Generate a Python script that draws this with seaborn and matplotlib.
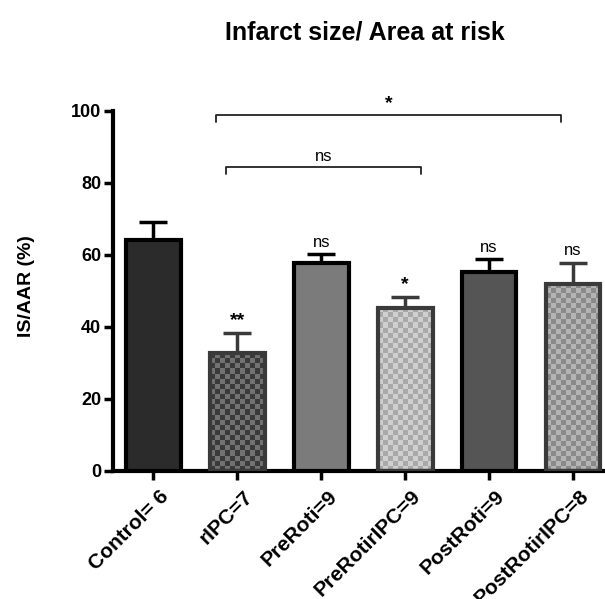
import numpy as np
import pandas as pd
import matplotlib
matplotlib.use('Agg')
import matplotlib.pyplot as plt
import matplotlib.transforms as mtransforms
import seaborn as sns

# values
groups = ['Control= 6', 'rIPC=7', 'PreRoti=9', 'PreRotirIPC=9', 'PostRoti=9', 'PostRotirIPC=8']
means = [64.2, 32.7, 57.8, 45.3, 55.3, 52.0]
sem = [4.8, 5.6, 2.3, 3.0, 3.4, 5.8]
marks = ['', '**', 'ns', '*', 'ns', 'ns']

face = ['#2b2b2b', '#3a3a3a', '#7b7b7b', '#a9a9a9', '#555555', '#8a8a8a']
checker = [None, '#727272', None, '#cfcfcf', None, '#b4b4b4']
edge = ['#000000', '#3a3a3a', '#000000', '#3a3a3a', '#000000', '#3a3a3a']

df = pd.DataFrame({'group': groups, 'value': means})

sns.set_style('ticks')
plt.rcParams['font.family'] = ['Liberation Sans', 'DejaVu Sans']
plt.rcParams['text.color'] = 'black'
plt.rcParams['xtick.color'] = 'black'
plt.rcParams['ytick.color'] = 'black'
plt.rcParams['axes.edgecolor'] = 'black'
plt.rcParams['axes.labelcolor'] = 'black'

fig = plt.figure(figsize=(6.05, 5.99), dpi=100)
ax = fig.add_axes([0.187, 0.214, 0.813, 0.601])

sns.barplot(data=df, x='group', y='value', hue='group', palette=face,
            width=0.65, legend=False, ax=ax, errorbar=None)

ax.set_xlim(-0.48, 5.38)
ax.set_ylim(0, 100)

cell = 0.06  # checker square in x data units
for i, p in enumerate(ax.patches):
    p.set_edgecolor(edge[i])
    p.set_linewidth(3)
    p.set_zorder(3)
    if checker[i] is not None:
        x0, w, h = p.get_x(), p.get_width(), p.get_height()
        nx = int(round(w / cell))
        ny = int(round(h * 3.58 / 5.0))
        grid = (np.add.outer(np.arange(ny), np.arange(nx)) % 2)
        cmap = matplotlib.colors.ListedColormap([face[i], checker[i]])
        im = ax.imshow(grid, cmap=cmap, extent=(x0, x0 + w, 0, h), origin='lower',
                       aspect='auto', interpolation='nearest', zorder=2.5)
        im.set_clip_path(p)
        p.set_facecolor('none')

# upper error bars only
for i in range(len(groups)):
    ax.errorbar(i, means[i], yerr=[[0], [sem[i]]], fmt='none', ecolor=edge[i],
                elinewidth=2.5, capsize=10, capthick=2.5, zorder=2)
    if marks[i]:
        ax.text(i, means[i] + sem[i] + 1.2, marks[i], ha='center', va='bottom',
                fontsize=12 if marks[i] == 'ns' else 14, fontweight='normal' if marks[i] == 'ns' else 'bold')

# comparison brackets
def bracket(x1, x2, y, label, size, weight):
    ax.plot([x1, x1, x2, x2], [y - 2, y, y, y - 2], color='#222222', lw=1.3, clip_on=False)
    ax.text((x1 + x2) / 2, y + 0.8, label, ha='center', va='bottom', fontsize=size,
            fontweight=weight, clip_on=False)

bracket(0.75, 4.85, 98.9, '*', 14, 'bold')
bracket(0.87, 3.19, 84.4, 'ns', 12, 'normal')

sns.despine(ax=ax)
ax.spines['left'].set_linewidth(3)
ax.spines['bottom'].set_linewidth(3)
ax.spines['left'].set_bounds(0, 100)
ax.set_yticks([0, 20, 40, 60, 80, 100])
ax.tick_params(axis='both', length=6.5, width=2.5, labelsize=13, pad=2)
ax.tick_params(axis='x', pad=5)
for lbl in ax.get_yticklabels():
    lbl.set_fontweight('bold')
ax.set_xticks(range(len(groups)))
ax.set_xticklabels(groups, rotation=45, ha='right', rotation_mode='anchor',
                   fontsize=15, fontweight='bold')
shift = mtransforms.ScaledTranslation(6 / 100, 0, fig.dpi_scale_trans)
for lbl in ax.get_xticklabels():
    lbl.set_transform(lbl.get_transform() + shift)
ax.set_xlabel('')
ax.set_ylabel('IS/AAR (%)', fontsize=14, fontweight='bold')
ax.yaxis.set_label_coords(-0.159, 0.514)

fig.text(0.603, 0.945, 'Infarct size/ Area at risk', ha='center', va='center',
         fontsize=18, fontweight='bold')

fig.savefig('out.png', dpi=100)
